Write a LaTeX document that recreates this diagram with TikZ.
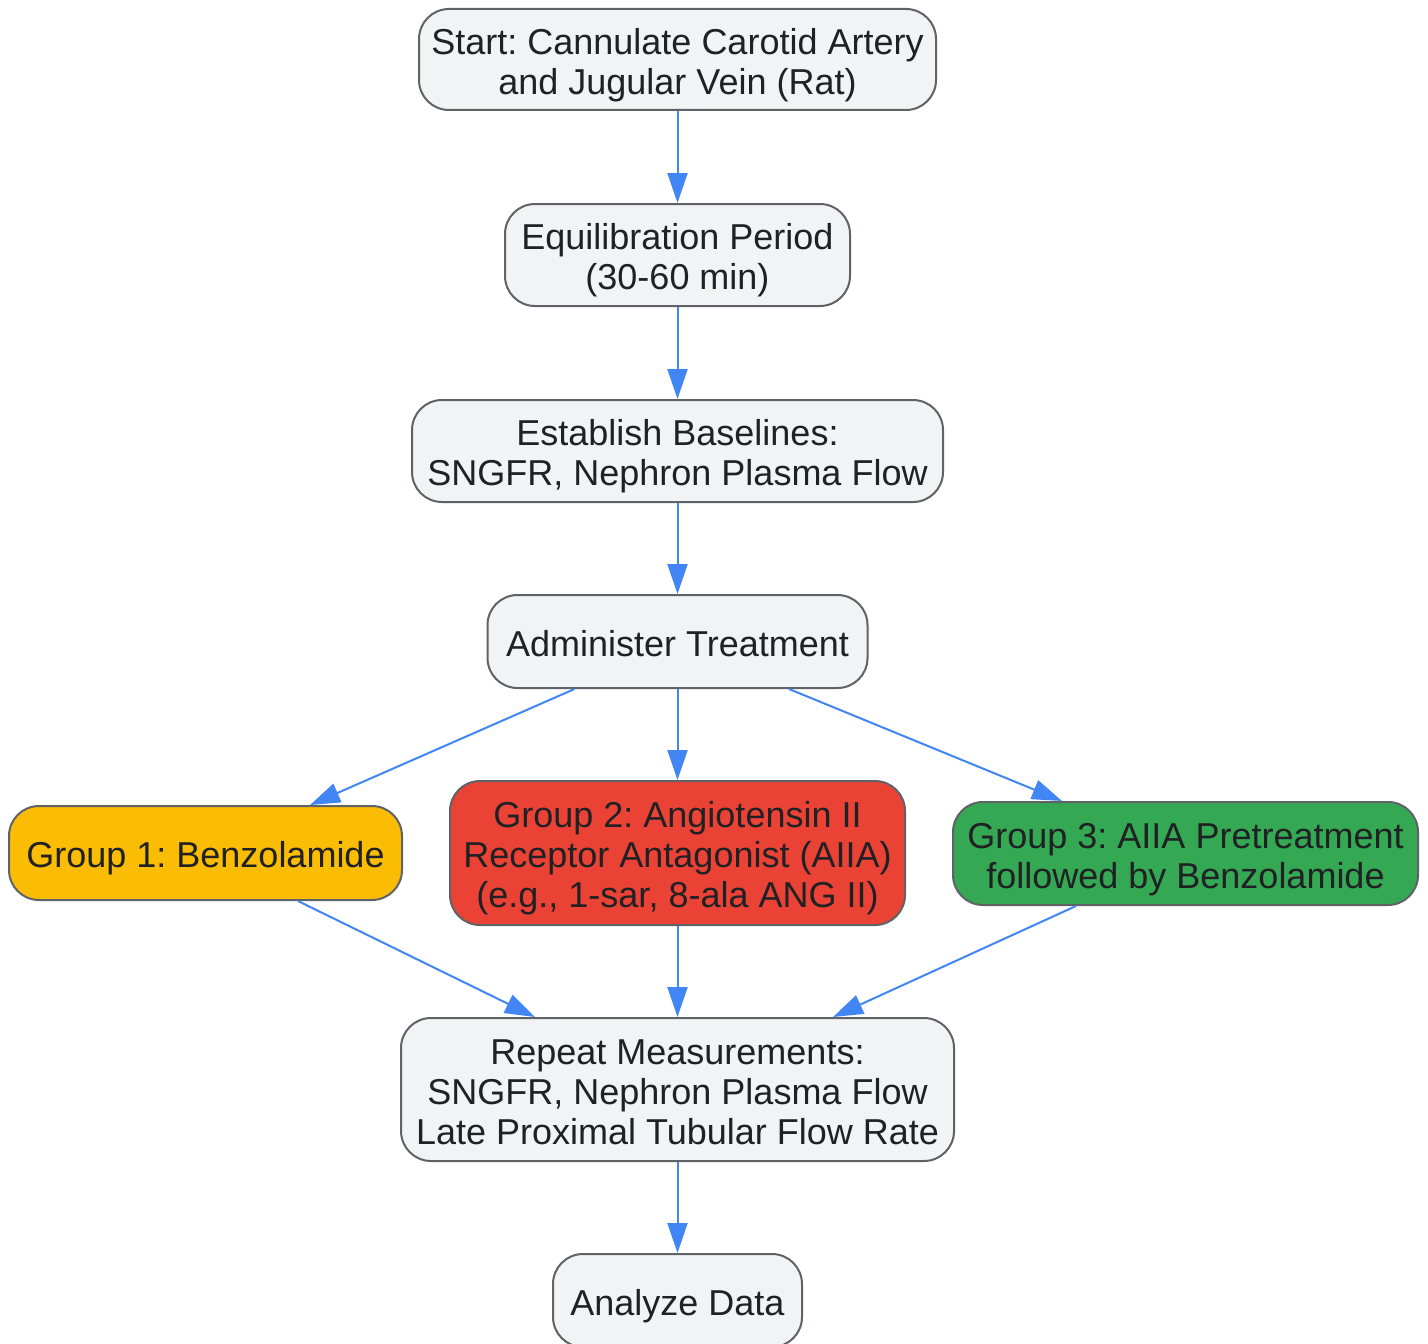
\documentclass[tikz,border=0pt]{standalone}
\usepackage{fontspec}
\setmainfont{Liberation Sans}
\usetikzlibrary{arrows.meta,calc}
\definecolor{boxfill}{HTML}{F1F3F4}
\definecolor{boxline}{HTML}{5F6368}
\definecolor{txt}{HTML}{202124}
\definecolor{arrowblue}{HTML}{4285F4}
\definecolor{gyellow}{HTML}{FBBC04}
\definecolor{gred}{HTML}{EA4335}
\definecolor{ggreen}{HTML}{34A853}
\newcommand\topstrut{\rule{0pt}{18.45pt}}
\newcommand\botstrut{\rule[-3.55pt]{0pt}{3.55pt}}
\frenchspacing
\begin{document}
\begin{tikzpicture}[x=0.5pt,y=-0.5pt,
  box/.style={draw=boxline, line width=1pt, fill=boxfill, rounded corners=15pt,
    inner sep=0pt, align=center, text=txt,
    font=\fontsize{18pt}{20pt}\selectfont\frenchspacing},
  conn/.style={draw=arrowblue, line width=1pt,
    -{Triangle[length=15pt,width=10pt]}}]
\useasboundingbox (0,0) rectangle (1428,1343);
\fill[white] (0,0) rectangle (1428,1343);

\node[box, minimum width=258.5pt, minimum height=50.5pt] (start) at (677.5,59.5)
  {\topstrut Start: Cannulate Carotid Artery\\and Jugular Vein (Rat)\botstrut};
\node[box, minimum width=172.5pt, minimum height=51pt] (equil) at (677.5,255)
  {\topstrut Equilibration Period\\(30-60 min)\botstrut};
\node[box, minimum width=265.5pt, minimum height=51pt] (base) at (677.5,451)
  {\topstrut Establish Baselines:\\SNGFR, Nephron Plasma Flow\botstrut};
\node[box, minimum width=190pt, minimum height=46.5pt] (adm) at (677.5,641.5)
  {\topstrut Administer Treatment\botstrut};
\node[box, fill=gyellow, minimum width=196.5pt, minimum height=47pt] (g1) at (205.5,853)
  {\topstrut Group 1: Benzolamide\botstrut};
\node[box, fill=gred, minimum width=227.5pt, minimum height=72pt] (g2) at (677.5,853)
  {\topstrut Group 2: Angiotensin II\\Receptor Antagonist (AIIA)\\(e.g., 1-sar, 8-ala ANG II)\botstrut};
\node[box, fill=ggreen, minimum width=232.5pt, minimum height=51.5pt] (g3) at (1185.5,853.5)
  {\topstrut Group 3: AIIA Pretreatment\\followed by Benzolamide\botstrut};
\node[box, minimum width=276.5pt, minimum height=71.5pt] (rep) at (677.5,1089.5)
  {\topstrut Repeat Measurements:\\SNGFR, Nephron Plasma Flow\\Late Proximal Tubular Flow Rate\botstrut};
\node[box, minimum width=124.5pt, minimum height=46.5pt] (ana) at (677.5,1300.5)
  {\topstrut Analyze Data\botstrut};

\draw[conn] (start) -- (equil);
\draw[conn] (equil) -- (base);
\draw[conn] (base) -- (adm);
\draw[conn] (adm) -- (g2);
\draw[conn] ($(adm.south)+(-103,0)$) -- ($(g1.north)+(104.5,0)$);
\draw[conn] ($(adm.south)+(111.5,0)$) -- ($(g3.north)+(-123.5,0)$);
\draw[conn] (g2) -- (rep);
\draw[conn] ($(g1.south)+(92.5,0)$) -- ($(rep.north)+(-142.5,0)$);
\draw[conn] ($(g3.south)+(-109.5,0)$) -- ($(rep.north)+(155.5,0)$);
\draw[conn] (rep) -- (ana);
\end{tikzpicture}
\end{document}
